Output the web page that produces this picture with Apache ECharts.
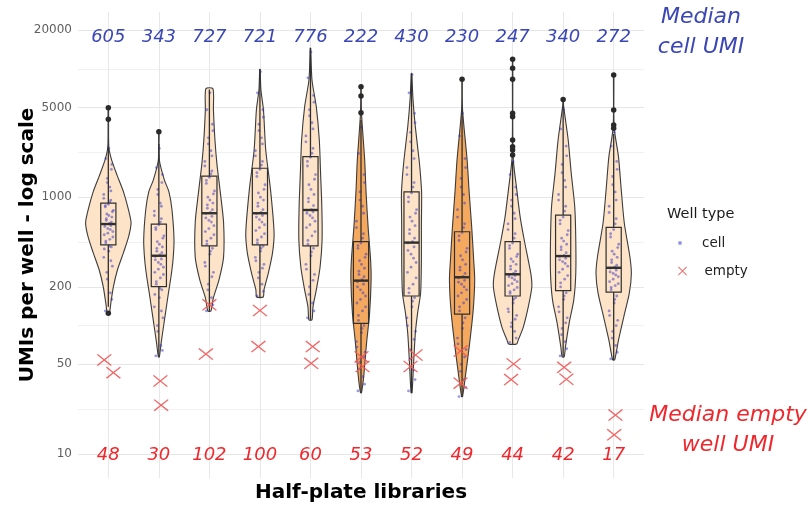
<!DOCTYPE html>
<html><head><meta charset="utf-8">
<script src="https://cdn.jsdelivr.net/npm/echarts@6/dist/echarts.min.js"></script>
<style>html,body{margin:0;padding:0;background:#fff}#c{width:811px;height:506px}</style>
</head><body><div id="c"></div>
<script>
// ---------------- DATA ----------------
const libraries = ['1','2','3','4','5','6','7','8','9','10','11'];
const medianCellUMI  = [605, 343, 727, 721, 776, 222, 430, 230, 247, 340, 272];
const medianEmptyUMI = [48, 30, 102, 100, 60, 53, 52, 49, 44, 42, 17];
const yTickLabels = [10, 50, 200, 1000, 5000, 20000];
const yMinorTicks = [22.36, 100, 447.2, 2236, 10000];

// box statistics: [lower whisker, Q1, median, Q3, upper whisker]
const boxStats = [
  [140, 425, 618, 898, 2470],
  [57, 201, 350, 618, 2600],
  [128, 417, 750, 1460, 6900],
  [167, 425, 750, 1680, 9900],
  [111, 417, 795, 2070, 14500],
  [30, 104, 224, 450, 4000],
  [30, 170, 443, 1100, 9200],
  [28, 123, 238, 538, 4800],
  [72, 170, 251, 450, 1900],
  [57, 187, 348, 726, 5100],
  [54, 182, 282, 583, 3100]
];
const outliers = [
  [4980, 4050, 125],
  [3240],
  [],
  [],
  [],
  [4550, 6140, 7260],
  [],
  [8280],
  [2130, 2330, 2470, 2790, 4240, 4500, 8280, 10100, 11850],
  [5780],
  [3440, 3650, 4780, 8950]
];
// violin outline: [UMI, half width (fraction of a category)], top to bottom
const violinProfiles = [
  [[4980,0.005],[2470,0.01],[1950,0.065],[1460,0.18],[1100,0.3],[795,0.4],[630,0.45],[490,0.4],[370,0.3],[271,0.18],[200,0.1],[150,0.05],[125,0.02]],
  [[3240,0.005],[1950,0.01],[1360,0.11],[1100,0.2],[795,0.26],[464,0.3],[324,0.28],[240,0.24],[180,0.19],[132,0.14],[97,0.09],[73,0.045],[57,0.01]],
  [[7000,0.07],[4800,0.08],[2790,0.11],[1800,0.15],[1140,0.21],[640,0.28],[340,0.28],[227,0.19],[165,0.08],[130,0.03]],
  [[9900,0.004],[6840,0.02],[4780,0.07],[2330,0.115],[1140,0.21],[530,0.28],[370,0.25],[255,0.165],[190,0.08],[167,0.065]],
  [[14500,0.004],[8190,0.03],[5070,0.115],[2790,0.175],[1540,0.2],[840,0.225],[464,0.23],[285,0.19],[189,0.115],[140,0.05],[111,0.03]],
  [[7260,0.004],[4500,0.01],[1950,0.073],[1100,0.1],[590,0.14],[324,0.19],[227,0.2],[125,0.17],[73,0.11],[40,0.053],[30,0.01]],
  [[9200,0.004],[5700,0.03],[3540,0.075],[1950,0.15],[1440,0.18],[1070,0.2],[590,0.195],[324,0.195],[180,0.18],[125,0.12],[87,0.075],[54,0.044],[30,0.01]],
  [[8280,0.004],[4780,0.01],[1950,0.1],[1100,0.14],[590,0.19],[324,0.23],[227,0.25],[132,0.22],[73,0.15],[40,0.065],[28,0.01]],
  [[11850,0.004],[2070,0.01],[1140,0.083],[700,0.15],[464,0.23],[255,0.36],[200,0.38],[140,0.31],[97,0.21],[77,0.11],[72,0.08]],
  [[5780,0.004],[5100,0.01],[2790,0.1],[1540,0.16],[840,0.23],[464,0.25],[255,0.25],[158,0.21],[105,0.12],[68,0.045],[57,0.02]],
  [[8950,0.004],[3500,0.01],[2070,0.095],[1140,0.15],[630,0.21],[345,0.32],[255,0.35],[180,0.31],[117,0.2],[77,0.095],[54,0.02]]
];
// cell well UMI values (sample of the plotted points)
const cellUMI = [
  [130,180,230,290,340,380,410,440,470,510,540,570,600,615,625,660,700,740,790,840,880,950,1050,1200,1400,1650,2000,2400,
   160,260,320,395,415,455,490,525,560,590,640,680,720,770,860,920,980,1120,1300,1800],
  [58,70,90,115,140,165,190,210,235,260,285,310,330,345,355,380,410,450,500,560,610,680,780,900,1050,1300,1700,2400,
   64,100,130,175,195,220,250,275,300,325,370,400,430,480,580,640,720,850,1150,1500],
  [130,165,210,260,310,360,400,430,480,540,600,660,710,745,760,820,900,1000,1120,1280,1430,1600,1900,2300,2900,3700,4800,6500,
   145,190,240,290,380,455,510,570,640,690,800,870,950,1060,1350,1520,1750,2100,2600,3300],
  [170,210,260,300,340,380,415,440,490,550,610,670,720,745,760,850,950,1080,1250,1450,1650,1900,2300,2900,3700,4800,6500,9500,
   185,235,280,320,400,465,520,580,640,700,800,900,1000,1150,1550,1780,2100,2600,3300,4200],
  [115,150,200,250,300,350,400,430,500,580,650,720,770,790,800,920,1050,1250,1500,1750,2050,2400,3000,3800,4800,6200,8500,13500,
   130,175,225,275,375,460,540,610,690,750,860,980,1150,1380,1900,2200,2700,3400,4300,5500],
  [31,40,52,62,75,88,100,110,130,150,170,190,210,220,228,250,280,320,360,400,440,520,650,850,1100,1500,2200,3500,
   35,46,57,68,95,120,140,160,180,200,240,265,300,340,420,480,580,750,950,1300],
  [31,45,65,90,115,140,165,180,210,260,310,360,410,440,450,520,600,700,800,920,1080,1300,1700,2300,3200,4500,6500,9000,
   38,55,78,100,155,195,235,285,335,385,480,560,650,750,1000,1200,1500,2000,2700,3800],
  [28,38,50,65,80,95,115,130,150,170,190,210,225,235,242,270,300,350,400,460,530,620,800,1050,1400,2000,3000,4500,
   33,44,57,72,105,140,160,180,200,218,255,285,325,375,500,580,700,900,1200,1700],
  [74,90,105,120,135,150,165,178,190,205,220,235,245,250,255,275,300,330,360,400,440,520,620,750,950,1200,1500,1900,
   80,98,112,128,160,184,198,212,228,240,265,290,315,345,420,480,560,680,850,1050],
  [58,75,95,115,140,160,180,200,230,260,290,315,335,345,352,390,430,480,550,620,700,850,1050,1350,1800,2500,3400,4800,
   66,85,105,128,170,215,245,275,305,325,370,410,455,510,660,780,950,1200,1550,2100],
  [55,70,90,110,130,150,170,190,205,220,240,255,270,280,285,310,340,380,430,490,560,680,850,1100,1450,1900,2500,3200,
   62,80,100,120,160,198,212,230,248,262,295,325,360,405,520,620,760,950,1250,1650]
];
const cellJitter = [-0.06,0.04,-0.02,0.08,-0.09,0.01,0.06,-0.05,0.03,-0.08,0.09,-0.01,0.05,-0.07,0.02,-0.04,0.07,-0.03,0.1,-0.06,0.0,0.05,-0.09,0.03,-0.02,0.06,-0.05,0.01,
  0.07,-0.03,0.05,-0.08,0.02,-0.05,0.09,-0.01,0.04,-0.07,0.06,-0.04,0.01,0.08,-0.06,0.03,-0.09,0.05,-0.02,0.07];
// empty well UMI values and their horizontal jitter
const emptyUMI = [[54,43],[37,24],[145,60],[131,68.6],[68.6,50.8],[57,48],[59,48],[63.4,35.6],[50.2,38],[47.3,38.2],[20.1,14.1]];
const emptyJitter = [[-0.08,0.1],[0.03,0.045],[0.0,-0.07],[0.0,-0.03],[0.045,0.015],[0.01,0.03],[0.08,-0.02],[-0.03,-0.03],[0.02,-0.03],[0.02,0.065],[0.035,0.01]];

// ---------------- STYLE ----------------
const FONT = 'DejaVu Sans';
const BLUE = '#3a47b5', RED = '#f0282d';
const highlighted = [5, 7];
const FILL_LIGHT = '#fde3c7', FILL_ORANGE = '#f5a95f';
const BOX_HALF = 0.15;
const CELL_LABEL_Y = 17500, EMPTY_LABEL_Y = 9.8;
const XPATH = 'path://M0,0.7L0.7,0L10,9.3L9.3,10ZM9.3,0L10,0.7L0.7,10L0,9.3Z';

const cellData = [];
cellUMI.forEach((arr, i) => arr.forEach((v, k) => cellData.push([i + 1 + cellJitter[k % cellJitter.length], v])));
const emptyData = [];
emptyUMI.forEach((arr, i) => arr.forEach((v, k) => emptyData.push([i + 1 + emptyJitter[i][k], v])));
const outlierData = [];
outliers.forEach((arr, i) => arr.forEach(v => outlierData.push([i + 1, v])));
const libData = libraries.map((_, i) => [i + 1, boxStats[i][2]]);

const chart = echarts.init(document.getElementById('c'), null, {renderer: 'canvas'});
chart.setOption({
  animation: false,
  backgroundColor: '#fff',
  grid: {left: 78, right: 167, top: 12, bottom: 28, containLabel: false, outerBoundsMode: 'none'},
  xAxis: {
    type: 'value', min: 0.4, max: 11.6,
    name: 'Half-plate libraries', nameLocation: 'middle', nameGap: 5, nameMoveOverlap: false,
    nameTextStyle: {fontFamily: FONT, fontWeight: 'bold', fontSize: 20, color: '#000'},
    axisLine: {show: false}, axisLabel: {show: false},
    axisTick: {show: false, customValues: libraries.map((_, i) => i + 1)},
    splitLine: {show: true, lineStyle: {color: '#e8e8e8', width: 1}}
  },
  yAxis: [{
    type: 'log', logBase: 10, min: 6.5, max: 27700, position: 'left',
    name: 'UMIs per well - log scale', nameLocation: 'middle', nameGap: 40, nameMoveOverlap: false,
    nameTextStyle: {fontFamily: FONT, fontWeight: 'bold', fontSize: 20, color: '#000'},
    axisLine: {show: false},
    axisTick: {show: false, customValues: yTickLabels},
    axisLabel: {customValues: yTickLabels, formatter: v => String(Math.round(v)), color: '#5f5f5f', fontFamily: FONT, fontSize: 12, margin: 6},
    splitLine: {show: true, lineStyle: {color: '#e6e6e6', width: 1}}
  }, {
    type: 'log', logBase: 10, min: 6.5, max: 27700, position: 'left', offset: 0,
    axisLine: {show: false}, axisLabel: {show: false},
    axisTick: {show: false, customValues: yMinorTicks},
    splitLine: {show: true, lineStyle: {color: '#f1f1f1', width: 1}}
  }],
  legend: [{
    data: ['cell'], left: 678, top: 236, padding: 0, orient: 'vertical',
    itemWidth: 34, itemHeight: 4, icon: 'circle', selectedMode: false,
    textStyle: {fontFamily: FONT, fontSize: 13.5, color: '#222'}
  }, {
    data: ['empty'], left: 678, top: 264, padding: 0, orient: 'vertical',
    itemWidth: 34, itemHeight: 9, icon: XPATH, selectedMode: false,
    textStyle: {fontFamily: FONT, fontSize: 13.5, color: '#222'}
  }],
  graphic: [
    {type: 'text', x: 667, y: 214, style: {text: 'Well type', font: '14.5px "DejaVu Sans"', fill: '#1a1a1a', verticalAlign: 'middle'}},
    {type: 'text', x: 701, y: 2, style: {text: 'Median\ncell UMI', font: 'italic 22px "DejaVu Sans"', fill: BLUE, align: 'center', verticalAlign: 'top', lineHeight: 30}},
    {type: 'text', x: 728, y: 400, style: {text: 'Median empty\nwell UMI', font: 'italic 22px "DejaVu Sans"', fill: RED, align: 'center', verticalAlign: 'top', lineHeight: 30}}
  ],
  series: [
    {
      type: 'custom', name: 'violin', z: 2, silent: true,
      data: libData, encode: {x: 0, y: 1},
      renderItem(params, api) {
        const i = params.dataIndex, x = i + 1;
        const prof = violinProfiles[i];
        const pts = [];
        prof.forEach(([v, w]) => pts.push(api.coord([x + w, v])));
        for (let k = prof.length - 1; k >= 0; k--) pts.push(api.coord([x - prof[k][1], prof[k][0]]));
        return {type: 'polygon', shape: {points: pts, smooth: 0.25},
          style: {fill: highlighted.includes(i) ? FILL_ORANGE : FILL_LIGHT, stroke: '#3c3c3c', lineWidth: 1.1}};
      }
    },
    {
      type: 'scatter', name: 'cell', z: 3, data: cellData, symbol: 'circle', symbolSize: 2.8,
      itemStyle: {color: '#3434c8', opacity: 0.5}, silent: true
    },
    {
      type: 'custom', name: 'box', z: 4, silent: true,
      data: libData, encode: {x: 0, y: 1},
      renderItem(params, api) {
        const i = params.dataIndex, x = i + 1;
        const [lo, q1, med, q3, hi] = boxStats[i];
        const c = (a, b) => api.coord([a, b]);
        const s = '#303030';
        const a1 = c(x, q3), a2 = c(x, hi), b1 = c(x, lo), b2 = c(x, q1);
        const tl = c(x - BOX_HALF, q3), br = c(x + BOX_HALF, q1);
        const m1 = c(x - BOX_HALF, med), m2 = c(x + BOX_HALF, med);
        return {type: 'group', children: [
          {type: 'line', shape: {x1: a1[0], y1: a1[1], x2: a2[0], y2: a2[1]}, style: {stroke: s, lineWidth: 1.3}},
          {type: 'line', shape: {x1: b1[0], y1: b1[1], x2: b2[0], y2: b2[1]}, style: {stroke: s, lineWidth: 1.3}},
          {type: 'rect', shape: {x: tl[0], y: tl[1], width: br[0] - tl[0], height: br[1] - tl[1]}, style: {fill: 'none', stroke: s, lineWidth: 1.2}},
          {type: 'line', shape: {x1: m1[0], y1: m1[1], x2: m2[0], y2: m2[1]}, style: {stroke: s, lineWidth: 2.4}}
        ]};
      }
    },
    {
      type: 'scatter', name: 'outlier', z: 4, data: outlierData, symbol: 'circle', symbolSize: 5.5,
      itemStyle: {color: '#2a2a2a', opacity: 1}, silent: true
    },
    {
      type: 'scatter', name: 'empty', z: 5, data: emptyData, symbol: XPATH, symbolSize: [15, 12],
      symbolKeepAspect: false, itemStyle: {color: '#f25757', opacity: 0.9}, silent: true
    },
    {
      type: 'scatter', name: 'cellMedian', z: 6, silent: true, symbolSize: 0,
      itemStyle: {opacity: 1},
      data: medianCellUMI.map((m, i) => [i + 1, CELL_LABEL_Y, m]),
      label: {show: true, position: 'inside', formatter: p => String(p.value[2]), opacity: 1,
        color: BLUE, fontFamily: FONT, fontStyle: 'italic', fontSize: 18}
    },
    {
      type: 'scatter', name: 'emptyMedian', z: 6, silent: true, symbolSize: 0,
      itemStyle: {opacity: 1},
      data: medianEmptyUMI.map((m, i) => [i + 1, EMPTY_LABEL_Y, m]),
      label: {show: true, position: 'inside', formatter: p => String(p.value[2]), opacity: 1,
        color: RED, fontFamily: FONT, fontStyle: 'italic', fontSize: 18}
    }
  ]
});
</script>
</body></html>
